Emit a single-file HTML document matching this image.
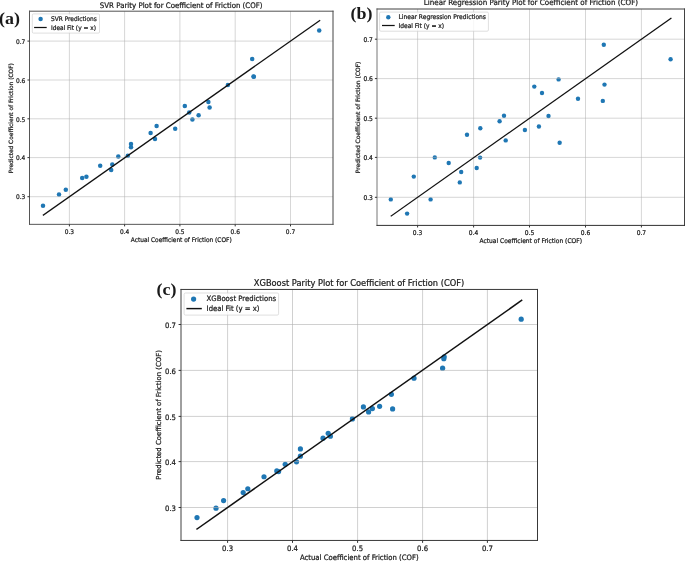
<!DOCTYPE html>
<html><head><meta charset="utf-8"><title>Parity Plots</title>
<style>
html,body{margin:0;padding:0;background:#fff;}
body{width:685px;height:561px;overflow:hidden;}
svg{display:block;}
svg text{font-family:'DejaVu Sans', 'Liberation Sans', sans-serif;fill:#1a1a1a;}
svg text:not(.pl){stroke:#1a1a1a;stroke-width:0.22px;}
.pl{font-family:'Liberation Serif','Times New Roman',serif;font-weight:bold;}
</style></head><body>
<svg width="685" height="561" viewBox="0 0 685 561">
<rect width="685" height="561" fill="#fff"/>
<g id="plot-a">
<g fill="#1f77b4">
<circle cx="43.0" cy="205.85" r="2.25"/>
<circle cx="59.0" cy="194.45" r="2.25"/>
<circle cx="65.8" cy="189.85" r="2.25"/>
<circle cx="82.2" cy="178.05" r="2.25"/>
<circle cx="86.4" cy="176.85" r="2.25"/>
<circle cx="100.2" cy="165.65" r="2.25"/>
<circle cx="111.2" cy="170.05" r="2.25"/>
<circle cx="112.3" cy="164.55" r="2.25"/>
<circle cx="118.3" cy="156.45" r="2.25"/>
<circle cx="127.8" cy="155.65" r="2.25"/>
<circle cx="131.0" cy="147.25" r="2.25"/>
<circle cx="131.0" cy="143.95" r="2.25"/>
<circle cx="150.6" cy="133.05" r="2.25"/>
<circle cx="155.0" cy="139.05" r="2.25"/>
<circle cx="156.6" cy="126.05" r="2.25"/>
<circle cx="175.2" cy="128.85" r="2.25"/>
<circle cx="184.8" cy="106.05" r="2.25"/>
<circle cx="189.2" cy="112.45" r="2.25"/>
<circle cx="192.4" cy="119.45" r="2.25"/>
<circle cx="198.6" cy="115.25" r="2.25"/>
<circle cx="208.4" cy="102.05" r="2.25"/>
<circle cx="209.6" cy="107.45" r="2.25"/>
<circle cx="227.9" cy="85.05" r="2.25"/>
<circle cx="252.2" cy="59.05" r="2.25"/>
<circle cx="253.5" cy="76.45" r="2.25"/>
<circle cx="253.8" cy="76.65" r="2.25"/>
<circle cx="319.2" cy="30.45" r="2.25"/>
</g>
<g stroke="#b0b0b0" stroke-width="1" stroke-opacity="0.5">
<line x1="69.4" y1="11.2" x2="69.4" y2="224.35"/>
<line x1="124.6" y1="11.2" x2="124.6" y2="224.35"/>
<line x1="179.9" y1="11.2" x2="179.9" y2="224.35"/>
<line x1="235.2" y1="11.2" x2="235.2" y2="224.35"/>
<line x1="290.5" y1="11.2" x2="290.5" y2="224.35"/>
<line x1="29.5" y1="196.7" x2="333.0" y2="196.7"/>
<line x1="29.5" y1="157.6" x2="333.0" y2="157.6"/>
<line x1="29.5" y1="118.8" x2="333.0" y2="118.8"/>
<line x1="29.5" y1="80.0" x2="333.0" y2="80.0"/>
<line x1="29.5" y1="41.1" x2="333.0" y2="41.1"/>
</g>
<line x1="43.37" y1="215.02" x2="319.63" y2="20.60" stroke="#111" stroke-width="1.29" stroke-linecap="square"/>
<g stroke-width="1" stroke-linecap="square">
<line x1="29.5" y1="11.2" x2="29.5" y2="224.35" stroke="#555"/><line x1="333.0" y1="11.2" x2="333.0" y2="224.35" stroke="#444"/>
<line x1="29.5" y1="11.2" x2="333.0" y2="11.2" stroke="#515151"/><line x1="29.5" y1="224.35" x2="333.0" y2="224.35" stroke="#575757"/>
</g>
<g stroke="#333" stroke-width="1">
<line x1="69.4" y1="224.35" x2="69.4" y2="226.40"/>
<line x1="124.6" y1="224.35" x2="124.6" y2="226.40"/>
<line x1="179.9" y1="224.35" x2="179.9" y2="226.40"/>
<line x1="235.2" y1="224.35" x2="235.2" y2="226.40"/>
<line x1="290.5" y1="224.35" x2="290.5" y2="226.40"/>
<line x1="27.45" y1="196.7" x2="29.5" y2="196.7"/>
<line x1="27.45" y1="157.6" x2="29.5" y2="157.6"/>
<line x1="27.45" y1="118.8" x2="29.5" y2="118.8"/>
<line x1="27.45" y1="80.0" x2="29.5" y2="80.0"/>
<line x1="27.45" y1="41.1" x2="29.5" y2="41.1"/>
</g>
<g font-size="5.87" fill="#1a1a1a">
<text transform="translate(69.40,233.70) scale(1,1.08)" text-anchor="middle">0.3</text>
<text transform="translate(124.60,233.70) scale(1,1.08)" text-anchor="middle">0.4</text>
<text transform="translate(179.90,233.70) scale(1,1.08)" text-anchor="middle">0.5</text>
<text transform="translate(235.20,233.70) scale(1,1.08)" text-anchor="middle">0.6</text>
<text transform="translate(290.50,233.70) scale(1,1.08)" text-anchor="middle">0.7</text>
<text transform="translate(25.30,199.44) scale(1,1.08)" text-anchor="end">0.3</text>
<text transform="translate(25.30,160.34) scale(1,1.08)" text-anchor="end">0.4</text>
<text transform="translate(25.30,121.54) scale(1,1.08)" text-anchor="end">0.5</text>
<text transform="translate(25.30,82.74) scale(1,1.08)" text-anchor="end">0.6</text>
<text transform="translate(25.30,43.84) scale(1,1.08)" text-anchor="end">0.7</text>
</g>
<text transform="translate(181.25,241.80) scale(1,1.08)" font-size="5.87" text-anchor="middle">Actual Coefficient of Friction (COF)</text>
<text transform="translate(12.50,118.20) rotate(-90)" font-size="5.87" text-anchor="middle" fill="#1a1a1a">Predicted Coefficient of Friction (COF)</text>
<text transform="translate(181.20,7.85) scale(1,1.08)" font-size="7.04" text-anchor="middle">SVR Parity Plot for Coefficient of Friction (COF)</text>
<rect x="32.3" y="13.9" width="67.20" height="19.20" rx="1.17" fill="#fff" fill-opacity="0.8" stroke="#cccccc" stroke-opacity="0.8" stroke-width="0.8" class="leg-a"/>
<circle cx="40.6" cy="19.1" r="2.25" fill="#1f77b4"/>
<line x1="34.1" y1="27.5" x2="46.7" y2="27.5" stroke="#111" stroke-width="1.23"/>
<text transform="translate(51.00,21.10) scale(1,1.08)" font-size="5.87">SVR Predictions</text>
<text transform="translate(51.00,29.60) scale(1,1.08)" font-size="5.87">Ideal Fit (y = x)</text>
</g>
<g id="plot-b">
<g fill="#1f77b4">
<circle cx="390.8" cy="199.40" r="2.2"/>
<circle cx="407.1" cy="213.60" r="2.2"/>
<circle cx="413.8" cy="176.60" r="2.2"/>
<circle cx="430.6" cy="199.40" r="2.2"/>
<circle cx="434.8" cy="157.40" r="2.2"/>
<circle cx="448.7" cy="163.00" r="2.2"/>
<circle cx="459.8" cy="182.40" r="2.2"/>
<circle cx="461.2" cy="172.00" r="2.2"/>
<circle cx="467.0" cy="134.80" r="2.2"/>
<circle cx="476.7" cy="168.00" r="2.2"/>
<circle cx="480.1" cy="157.60" r="2.2"/>
<circle cx="480.3" cy="128.30" r="2.2"/>
<circle cx="499.6" cy="121.30" r="2.2"/>
<circle cx="504.0" cy="115.80" r="2.2"/>
<circle cx="505.7" cy="140.40" r="2.2"/>
<circle cx="524.9" cy="130.00" r="2.2"/>
<circle cx="534.3" cy="86.60" r="2.2"/>
<circle cx="538.9" cy="126.45" r="2.2"/>
<circle cx="542.0" cy="93.00" r="2.2"/>
<circle cx="548.5" cy="116.00" r="2.2"/>
<circle cx="558.6" cy="79.40" r="2.2"/>
<circle cx="559.65" cy="142.70" r="2.2"/>
<circle cx="578.0" cy="98.80" r="2.2"/>
<circle cx="602.8" cy="100.90" r="2.2"/>
<circle cx="603.8" cy="44.80" r="2.2"/>
<circle cx="604.5" cy="84.60" r="2.2"/>
<circle cx="670.6" cy="59.20" r="2.2"/>
</g>
<g stroke="#b0b0b0" stroke-width="1" stroke-opacity="0.52">
<line x1="417.6" y1="9.0" x2="417.6" y2="225.4"/>
<line x1="473.6" y1="9.0" x2="473.6" y2="225.4"/>
<line x1="529.5" y1="9.0" x2="529.5" y2="225.4"/>
<line x1="585.5" y1="9.0" x2="585.5" y2="225.4"/>
<line x1="641.4" y1="9.0" x2="641.4" y2="225.4"/>
<line x1="377.0" y1="197.3" x2="684.5" y2="197.3"/>
<line x1="377.0" y1="157.4" x2="684.5" y2="157.4"/>
<line x1="377.0" y1="118.2" x2="684.5" y2="118.2"/>
<line x1="377.0" y1="78.6" x2="684.5" y2="78.6"/>
<line x1="377.0" y1="39.2" x2="684.5" y2="39.2"/>
</g>
<line x1="391.25" y1="215.92" x2="670.89" y2="18.37" stroke="#111" stroke-width="1.31" stroke-linecap="square"/>
<g stroke-width="1" stroke-linecap="square">
<line x1="377.0" y1="9.0" x2="377.0" y2="225.4" stroke="#777"/><line x1="684.5" y1="9.0" x2="684.5" y2="225.4" stroke="#424242"/>
<line x1="377.0" y1="9.0" x2="684.5" y2="9.0" stroke="#414141"/><line x1="377.0" y1="225.4" x2="684.5" y2="225.4" stroke="#303030"/>
</g>
<g stroke="#333" stroke-width="1">
<line x1="417.6" y1="225.4" x2="417.6" y2="227.48"/>
<line x1="473.6" y1="225.4" x2="473.6" y2="227.48"/>
<line x1="529.5" y1="225.4" x2="529.5" y2="227.48"/>
<line x1="585.5" y1="225.4" x2="585.5" y2="227.48"/>
<line x1="641.4" y1="225.4" x2="641.4" y2="227.48"/>
<line x1="374.92" y1="197.3" x2="377.0" y2="197.3"/>
<line x1="374.92" y1="157.4" x2="377.0" y2="157.4"/>
<line x1="374.92" y1="118.2" x2="377.0" y2="118.2"/>
<line x1="374.92" y1="78.6" x2="377.0" y2="78.6"/>
<line x1="374.92" y1="39.2" x2="377.0" y2="39.2"/>
</g>
<g font-size="5.95" fill="#1a1a1a">
<text transform="translate(417.60,234.50) scale(1,1.08)" text-anchor="middle">0.3</text>
<text transform="translate(473.60,234.50) scale(1,1.08)" text-anchor="middle">0.4</text>
<text transform="translate(529.50,234.50) scale(1,1.08)" text-anchor="middle">0.5</text>
<text transform="translate(585.50,234.50) scale(1,1.08)" text-anchor="middle">0.6</text>
<text transform="translate(641.40,234.50) scale(1,1.08)" text-anchor="middle">0.7</text>
<text transform="translate(372.90,200.17) scale(1,1.08)" text-anchor="end">0.3</text>
<text transform="translate(372.90,160.27) scale(1,1.08)" text-anchor="end">0.4</text>
<text transform="translate(372.90,121.07) scale(1,1.08)" text-anchor="end">0.5</text>
<text transform="translate(372.90,81.47) scale(1,1.08)" text-anchor="end">0.6</text>
<text transform="translate(372.90,42.07) scale(1,1.08)" text-anchor="end">0.7</text>
</g>
<text transform="translate(530.75,242.90) scale(1,1.08)" font-size="5.95" text-anchor="middle">Actual Coefficient of Friction (COF)</text>
<text transform="translate(360.30,117.40) rotate(-90)" font-size="5.95" text-anchor="middle" fill="#1a1a1a">Predicted Coefficient of Friction (COF)</text>
<text transform="translate(530.90,5.45) scale(1,1.08)" font-size="7.14" text-anchor="middle">Linear Regression Parity Plot for Coefficient of Friction (COF)</text>
<rect x="379.6" y="12.1" width="108.80" height="19.10" rx="1.19" fill="#fff" fill-opacity="0.8" stroke="#cccccc" stroke-opacity="0.8" stroke-width="0.8" class="leg-b"/>
<circle cx="388.3" cy="17.2" r="2.2" fill="#1f77b4"/>
<line x1="382.0" y1="25.5" x2="394.7" y2="25.5" stroke="#111" stroke-width="1.25"/>
<text transform="translate(398.50,19.30) scale(1,1.08)" font-size="5.95">Linear Regression Predictions</text>
<text transform="translate(398.50,27.80) scale(1,1.08)" font-size="5.95">Ideal Fit (y = x)</text>
</g>
<g id="plot-c">
<g fill="#1f77b4">
<circle cx="197.0" cy="517.55" r="2.6"/>
<circle cx="216.0" cy="508.15" r="2.6"/>
<circle cx="223.6" cy="500.55" r="2.6"/>
<circle cx="243.2" cy="492.55" r="2.6"/>
<circle cx="247.8" cy="488.75" r="2.6"/>
<circle cx="264.0" cy="476.75" r="2.6"/>
<circle cx="276.8" cy="470.95" r="2.6"/>
<circle cx="278.6" cy="471.55" r="2.6"/>
<circle cx="285.2" cy="464.35" r="2.6"/>
<circle cx="296.5" cy="461.85" r="2.6"/>
<circle cx="300.4" cy="456.15" r="2.6"/>
<circle cx="300.4" cy="448.95" r="2.6"/>
<circle cx="323.0" cy="438.15" r="2.6"/>
<circle cx="328.2" cy="433.35" r="2.6"/>
<circle cx="330.4" cy="436.15" r="2.6"/>
<circle cx="352.4" cy="418.95" r="2.6"/>
<circle cx="363.4" cy="406.95" r="2.6"/>
<circle cx="368.6" cy="411.95" r="2.6"/>
<circle cx="372.4" cy="408.55" r="2.6"/>
<circle cx="379.6" cy="406.35" r="2.6"/>
<circle cx="391.4" cy="394.35" r="2.6"/>
<circle cx="392.6" cy="408.95" r="2.6"/>
<circle cx="414.0" cy="378.15" r="2.6"/>
<circle cx="442.6" cy="368.15" r="2.6"/>
<circle cx="443.8" cy="358.75" r="2.6"/>
<circle cx="444.2" cy="356.75" r="2.6"/>
<circle cx="521.2" cy="319.15" r="2.6"/>
</g>
<g stroke="#b0b0b0" stroke-width="1" stroke-opacity="0.6">
<line x1="227.6" y1="289.45" x2="227.6" y2="540.45"/>
<line x1="292.5" y1="289.45" x2="292.5" y2="540.45"/>
<line x1="357.6" y1="289.45" x2="357.6" y2="540.45"/>
<line x1="422.6" y1="289.45" x2="422.6" y2="540.45"/>
<line x1="487.4" y1="289.45" x2="487.4" y2="540.45"/>
<line x1="181.0" y1="507.5" x2="537.5" y2="507.5"/>
<line x1="181.0" y1="461.6" x2="537.5" y2="461.6"/>
<line x1="181.0" y1="416.4" x2="537.5" y2="416.4"/>
<line x1="181.0" y1="370.4" x2="537.5" y2="370.4"/>
<line x1="181.0" y1="324.5" x2="537.5" y2="324.5"/>
</g>
<line x1="197.01" y1="529.05" x2="521.63" y2="300.39" stroke="#111" stroke-width="1.52" stroke-linecap="square"/>
<g stroke-width="1" stroke-linecap="square">
<line x1="181.0" y1="289.45" x2="181.0" y2="540.45" stroke="#414141"/><line x1="537.5" y1="289.45" x2="537.5" y2="540.45" stroke="#383838"/>
<line x1="181.0" y1="289.45" x2="537.5" y2="289.45" stroke="#383838"/><line x1="181.0" y1="540.45" x2="537.5" y2="540.45" stroke="#383838"/>
</g>
<g stroke="#333" stroke-width="1">
<line x1="227.6" y1="540.45" x2="227.6" y2="542.87"/>
<line x1="292.5" y1="540.45" x2="292.5" y2="542.87"/>
<line x1="357.6" y1="540.45" x2="357.6" y2="542.87"/>
<line x1="422.6" y1="540.45" x2="422.6" y2="542.87"/>
<line x1="487.4" y1="540.45" x2="487.4" y2="542.87"/>
<line x1="178.59" y1="507.5" x2="181.0" y2="507.5"/>
<line x1="178.59" y1="461.6" x2="181.0" y2="461.6"/>
<line x1="178.59" y1="416.4" x2="181.0" y2="416.4"/>
<line x1="178.59" y1="370.4" x2="181.0" y2="370.4"/>
<line x1="178.59" y1="324.5" x2="181.0" y2="324.5"/>
</g>
<g font-size="6.9" fill="#1a1a1a">
<text transform="translate(227.60,550.80) scale(1,1.08)" text-anchor="middle">0.3</text>
<text transform="translate(292.50,550.80) scale(1,1.08)" text-anchor="middle">0.4</text>
<text transform="translate(357.60,550.80) scale(1,1.08)" text-anchor="middle">0.5</text>
<text transform="translate(422.60,550.80) scale(1,1.08)" text-anchor="middle">0.6</text>
<text transform="translate(487.40,550.80) scale(1,1.08)" text-anchor="middle">0.7</text>
<text transform="translate(176.00,510.61) scale(1,1.08)" text-anchor="end">0.3</text>
<text transform="translate(176.00,464.71) scale(1,1.08)" text-anchor="end">0.4</text>
<text transform="translate(176.00,419.51) scale(1,1.08)" text-anchor="end">0.5</text>
<text transform="translate(176.00,373.51) scale(1,1.08)" text-anchor="end">0.6</text>
<text transform="translate(176.00,327.61) scale(1,1.08)" text-anchor="end">0.7</text>
</g>
<text transform="translate(359.25,560.10) scale(1,1.08)" font-size="6.9" text-anchor="middle">Actual Coefficient of Friction (COF)</text>
<text transform="translate(160.60,414.90) rotate(-90)" font-size="6.9" text-anchor="middle" fill="#1a1a1a">Predicted Coefficient of Friction (COF)</text>
<text transform="translate(359.00,285.80) scale(1,1.08)" font-size="8.28" text-anchor="middle">XGBoost Parity Plot for Coefficient of Friction (COF)</text>
<rect x="184.1" y="293.0" width="94.50" height="22.10" rx="1.38" fill="#fff" fill-opacity="0.8" stroke="#cccccc" stroke-opacity="0.8" stroke-width="0.8" class="leg-c"/>
<circle cx="193.6" cy="299.1" r="2.6" fill="#1f77b4"/>
<line x1="186.4" y1="308.6" x2="201.8" y2="308.6" stroke="#111" stroke-width="1.45"/>
<text transform="translate(206.60,301.10) scale(1,1.08)" font-size="6.9">XGBoost Predictions</text>
<text transform="translate(206.60,310.90) scale(1,1.08)" font-size="6.9">Ideal Fit (y = x)</text>
</g>
<text class="pl" transform="translate(-1.0,24.1) scale(1,0.955)" font-size="18">(a)</text>
<text class="pl" transform="translate(350.4,18.6) scale(1,0.955)" font-size="18">(b)</text>
<text class="pl" transform="translate(156.6,294.5) scale(1,0.955)" font-size="18">(c)</text>
</svg>
</body></html>
